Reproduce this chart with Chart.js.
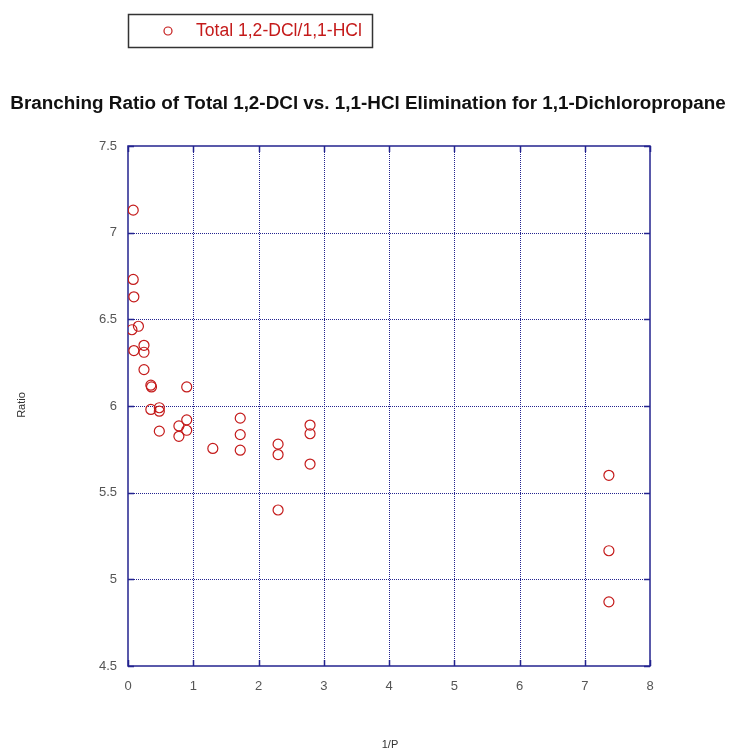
<!DOCTYPE html>
<html>
<head>
<meta charset="utf-8">
<script src="https://cdn.jsdelivr.net/npm/chart.js@4"></script>
<style>
  html, body { margin: 0; padding: 0; background: #fff; }
  #wrap { position: relative; width: 730px; height: 754px; }
</style>
</head>
<body>
<div id="wrap"><canvas id="ratioChart" width="730" height="754"></canvas></div>
<script>
// ------------------------------------
// data
// ------------------------------------
const seriesLabel = "Total 1,2-DCl/1,1-HCl";
const xValues = [
  0.08, 0.08, 0.09, 0.16, 0.06, 0.09, 0.245, 0.245, 0.245, 0.35, 0.36,
  0.90, 0.35, 0.48, 0.48, 0.48, 0.78, 0.78, 0.90, 0.90,
  1.30, 1.72, 1.72, 1.72, 2.30, 2.30, 2.30, 2.79, 2.79, 2.79,
  7.37, 7.37, 7.37
];
const yValues = [
  7.13, 6.73, 6.63, 6.46, 6.44, 6.32, 6.35, 6.31, 6.21, 6.12, 6.11,
  6.11, 5.98, 5.99, 5.97, 5.855, 5.885, 5.825, 5.92, 5.86,
  5.755, 5.93, 5.835, 5.745, 5.78, 5.72, 5.40, 5.89, 5.84, 5.665,
  5.60, 5.165, 4.87
];
const xTicks = [0, 1, 2, 3, 4, 5, 6, 7, 8];
const yTicks = [4.5, 5, 5.5, 6, 6.5, 7, 7.5];

const chartTitle = "Branching Ratio of Total 1,2-DCl vs. 1,1-HCl Elimination for 1,1-Dichloropropane";
const xTitle = "1/P";
const yTitle = "Ratio";

const NAVY = "#23238f";
const RED = "#c41a1a";
const FONT = "'Liberation Sans', Arial, sans-serif";

// fit a string into a given width by picking the font size
function fitFont(ctx, text, weight, width) {
  ctx.font = weight + " 20px " + FONT;
  const size = (20 * width) / ctx.measureText(text).width;
  ctx.font = weight + " " + size.toFixed(2) + "px " + FONT;
}

// ------------------------------------
// dotted grid + frame (under the points)
// ------------------------------------
const gridPlugin = {
  id: "dottedGrid",
  beforeDatasetsDraw(chart) {
    const { ctx, chartArea: a, scales } = chart;
    ctx.save();
    ctx.strokeStyle = NAVY;
    ctx.lineWidth = 1;
    ctx.setLineDash([1, 1]);
    xTicks.slice(1, -1).forEach((v) => {
      const px = Math.round(scales.x.getPixelForValue(v)) + 0.5;
      ctx.beginPath(); ctx.moveTo(px, a.top); ctx.lineTo(px, a.bottom); ctx.stroke();
    });
    yTicks.slice(1, -1).forEach((v) => {
      const py = Math.round(scales.y.getPixelForValue(v)) + 0.5;
      ctx.beginPath(); ctx.moveTo(a.left, py); ctx.lineTo(a.right, py); ctx.stroke();
    });
    ctx.setLineDash([]);
    ctx.lineWidth = 1.5;
    ctx.strokeRect(a.left, a.top, a.right - a.left, a.bottom - a.top);

    // inward tick marks on all four sides
    xTicks.forEach((v) => {
      const px = Math.round(scales.x.getPixelForValue(v)) + 0.5;
      ctx.beginPath();
      ctx.moveTo(px, a.bottom); ctx.lineTo(px, a.bottom - 6);
      ctx.moveTo(px, a.top); ctx.lineTo(px, a.top + 6);
      ctx.stroke();
    });
    yTicks.forEach((v) => {
      const py = Math.round(scales.y.getPixelForValue(v)) + 0.5;
      ctx.beginPath();
      ctx.moveTo(a.left, py); ctx.lineTo(a.left + 6, py);
      ctx.moveTo(a.right, py); ctx.lineTo(a.right - 6, py);
      ctx.stroke();
    });
    ctx.restore();
  },
};

// ------------------------------------
// title, legend, axis titles
// ------------------------------------
const decorPlugin = {
  id: "decor",
  afterDraw(chart) {
    const { ctx } = chart;
    ctx.save();

    // main title
    ctx.fillStyle = "#111";
    fitFont(ctx, chartTitle, "bold", 716);
    ctx.textAlign = "center";
    ctx.textBaseline = "middle";
    ctx.fillText(chartTitle, 368, 104);

    // legend box
    ctx.strokeStyle = "#333";
    ctx.lineWidth = 1.5;
    ctx.strokeRect(128.5, 14.5, 244, 33);
    ctx.strokeStyle = RED;
    ctx.lineWidth = 1.2;
    ctx.beginPath();
    ctx.arc(168, 31, 4, 0, Math.PI * 2);
    ctx.stroke();
    ctx.fillStyle = RED;
    fitFont(ctx, seriesLabel, "normal", 166);
    ctx.textAlign = "left";
    ctx.fillText(seriesLabel, 196, 31);

    // axis titles
    ctx.fillStyle = "#333";
    ctx.font = "11px " + FONT;
    ctx.textAlign = "center";
    ctx.fillText(xTitle, 390, 745);
    ctx.translate(22, 405);
    ctx.rotate(-Math.PI / 2);
    ctx.fillText(yTitle, 0, 0);

    ctx.restore();
  },
};

const ctx = document.getElementById("ratioChart");
new Chart(ctx, {
  type: "scatter",
  data: {
    datasets: [
      {
        label: seriesLabel,
        data: xValues.map((x, i) => ({ x, y: yValues[i] })),
        pointStyle: "circle",
        pointRadius: 5,
        pointHoverRadius: 5,
        pointBorderWidth: 1.2,
        borderColor: RED,
        backgroundColor: "rgba(0,0,0,0)",
      },
    ],
  },
  options: {
    responsive: false,
    animation: false,
    devicePixelRatio: 1,
    layout: { padding: { top: 146, right: 80, left: 0, bottom: 0 } },
    plugins: {
      legend: { display: false },
      title: { display: false },
      tooltip: { enabled: false },
    },
    scales: {
      x: {
        type: "linear",
        min: 0,
        max: 8,
        afterFit: (s) => { s.height = 88; },
        afterBuildTicks: (s) => { s.ticks = xTicks.map((v) => ({ value: v })); },
        ticks: {
          padding: 13,
          color: "#555",
          font: { family: FONT, size: 13 },
          callback: (v) => String(v),
        },
        grid: { display: false, drawTicks: false },
        border: { display: false },
      },
      y: {
        type: "linear",
        min: 4.5,
        max: 7.5,
        afterFit: (s) => { s.width = 128; },
        afterBuildTicks: (s) => { s.ticks = yTicks.map((v) => ({ value: v })); },
        ticks: {
          padding: 11,
          color: "#555",
          font: { family: FONT, size: 13 },
          callback: (v) => String(v),
        },
        grid: { display: false, drawTicks: false },
        border: { display: false },
      },
    },
  },
  plugins: [gridPlugin, decorPlugin],
});
</script>
</body>
</html>
